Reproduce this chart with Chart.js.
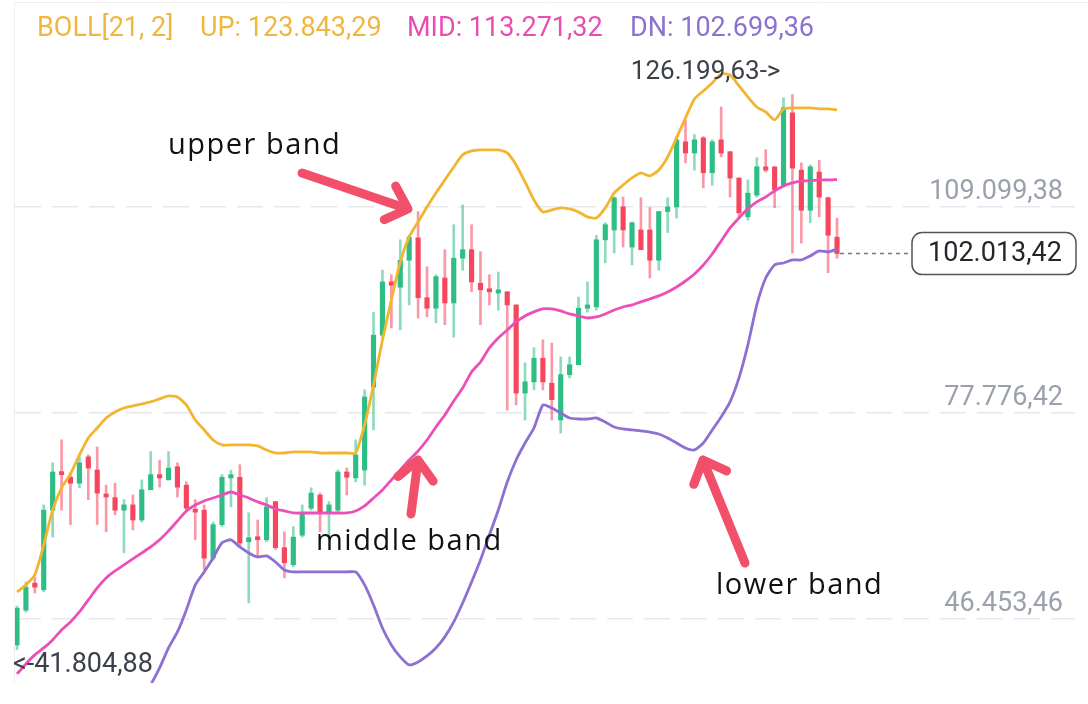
<!DOCTYPE html>
<html>
<head>
<meta charset="utf-8">
<script src="https://cdn.jsdelivr.net/npm/chart.js@4.4.1/dist/chart.umd.min.js"></script>
<style>
  html, body { margin: 0; padding: 0; background: #fff; }
  canvas { display: block; }
</style>
</head>
<body>
<canvas id="chart" width="1088" height="704"></canvas>
<script>
// velas (precio en miles)
const opens = [42.5,47.8,51.9,50.9,63.0,68.8,68.0,67.1,71.1,69.1,65.3,64.9,63.0,63.8,61.5,66.1,68.4,67.6,69.6,66.8,
  63.0,63.0,55.7,60.8,67.9,68.0,58.2,58.8,58.5,64.3,57.3,54.7,59.2,63.3,65.3,62.7,63.0,68.8,67.9,69.1,
  81.7,89.6,97.7,96.9,101.0,104.4,95.3,93.7,98.3,94.5,101.3,102.6,97.5,96.5,96.0,96.2,94.2,80.8,82.5,86.1,
  82.3,76.7,83.6,85.1,93.7,93.9,104.1,105.6,109.1,103.0,105.6,105.6,101.0,108.4,109.1,119.0,117.3,119.6,114.3,119.3,
  117.5,113.5,107.6,110.9,115.2,115.2,112.4,123.4,114.7,108.6,114.4,110.5,104.5];
const closes = [48.1,51.3,51.3,63.0,68.8,68.4,67.1,70.2,69.4,65.6,65.0,63.0,63.8,61.5,66.1,68.4,67.9,69.4,66.5,63.3,
  62.7,55.7,60.8,68.0,68.4,58.0,58.8,58.5,63.5,57.3,55.0,58.9,62.6,65.6,62.7,63.8,68.8,68.0,71.4,80.2,
  89.6,97.7,97.2,101.0,104.5,95.3,93.7,98.5,94.5,101.3,102.6,97.7,96.5,96.2,96.5,94.2,80.8,82.5,86.1,82.5,
  79.8,83.6,85.1,93.7,94.2,104.1,106.4,110.5,105.6,106.7,102.6,101.0,108.4,109.1,119.3,117.3,119.3,114.3,119.0,117.3,
  113.5,108.2,111.2,115.2,114.7,111.7,124.2,115.0,108.6,115.2,110.6,104.8,102.01342];
const highs = [48.4,52.1,52.8,63.8,70.2,73.7,68.7,71.4,71.4,72.6,66.8,67.1,64.6,65.3,67.6,71.9,70.6,71.9,70.2,67.3,
  64.6,63.8,61.2,68.4,69.1,69.9,62.6,61.5,64.9,64.3,59.7,60.5,63.8,66.4,65.6,64.3,69.1,69.4,73.7,81.3,
  93.1,99.5,98.8,104.1,104.8,108.4,100.0,98.8,102.6,106.4,109.4,106.4,102.3,98.8,99.2,96.2,94.2,85.4,87.7,88.9,
  88.4,86.3,86.3,95.4,97.7,104.8,106.7,110.6,110.6,106.8,110.5,109.0,108.4,110.5,119.8,122.3,120.1,119.8,119.3,124.3,
  117.5,113.5,113.2,116.6,117.8,115.2,125.7,126.19963,115.8,115.5,116.2,110.6,107.4];
const lows = [41.80488,47.5,50.4,50.6,58.9,63.0,60.8,66.4,64.6,60.8,59.7,62.3,56.5,60.0,61.2,66.1,66.5,67.6,65.0,63.0,
  58.5,53.9,55.4,60.5,63.5,57.4,48.9,55.9,58.2,57.0,52.7,54.4,58.9,63.0,59.7,58.9,62.7,65.3,67.3,66.8,
  75.2,89.3,90.7,90.4,94.2,92.2,92.4,91.5,91.2,89.3,99.5,96.2,91.2,94.2,93.4,78.2,79.0,76.7,81.3,81.3,
  76.7,74.7,83.1,85.1,93.1,93.4,100.6,102.1,103.0,100.3,102.6,98.3,99.5,105.2,107.4,115.8,114.7,112.0,112.4,116.7,
  110.6,107.4,107.1,110.6,114.4,109.0,112.1,102.1,103.6,106.7,107.6,99.1,101.3];

// bandas de Bollinger (21, 2)
const upperBand = [50.56,51.63,53.15,57.71,63.03,66.37,68.50,71.39,73.97,75.49,77.01,77.93,78.53,78.84,79.14,79.45,79.91,80.36,80.21,78.99,
  76.71,75.19,73.67,72.91,72.91,72.91,72.91,72.76,72.15,71.69,71.69,71.85,71.85,71.85,71.69,71.69,71.69,71.69,71.69,76.00,
  82.04,88.88,94.96,100.73,104.54,106.82,109.10,111.23,113.20,115.18,117.01,117.61,117.77,117.77,117.77,117.31,115.48,112.89,110.16,108.34,
  108.64,108.95,108.80,108.34,107.58,107.43,108.95,111.23,112.44,113.51,114.27,113.81,114.72,116.70,119.59,122.63,125.52,126.74,127.95,129.32,
  129.17,127.50,125.82,124.30,123.55,122.33,124.0,124.15,124.15,124.15,124.0,124.0,123.84329];
const midBand = [38.10,39.62,40.99,42.05,43.27,44.79,46.01,47.52,49.35,51.17,52.69,53.76,54.67,55.58,56.49,57.40,58.49,59.85,61.36,62.88,
  63.79,64.40,64.85,65.31,65.76,65.31,64.85,64.25,63.79,63.18,62.88,62.57,62.57,62.57,62.57,62.57,62.57,62.57,62.88,63.64,
  64.85,66.07,67.59,69.11,70.63,72.00,73.67,75.65,77.47,79.60,81.58,84.01,85.53,87.66,89.18,90.40,91.61,92.52,93.14,93.59,
  93.59,93.29,92.83,92.52,92.22,92.37,92.83,93.44,93.89,94.20,94.66,95.11,95.57,96.17,96.93,97.84,98.91,100.28,101.95,103.93,
  105.91,107.43,108.80,109.86,110.62,111.53,112.29,112.75,113.05,113.05,113.20,113.20,113.27132];
const lowerBand = [25.63,27.60,28.82,26.54,23.50,23.19,23.50,23.65,24.71,26.84,28.36,29.58,30.79,32.32,34.14,36.43,39.01,42.05,44.48,47.83,
  51.63,53.61,55.73,58.03,58.49,57.40,56.49,55.88,56.04,55.12,53.91,53.61,53.61,53.61,53.61,53.61,53.61,53.61,53.61,51.63,
  48.59,45.09,42.51,40.69,39.47,39.93,40.84,42.05,43.73,46.01,48.89,52.08,55.43,59.24,63.03,67.28,70.63,73.21,75.49,78.99,
  78.53,77.77,77.01,76.86,76.86,77.01,76.40,75.65,75.34,75.19,75.04,74.88,74.58,73.97,73.21,72.45,72.15,73.21,75.19,77.17,
  79.45,83.10,88.12,94.20,98.30,100.28,100.58,101.04,101.04,101.65,102.41,102.26,102.69936];

const yTicks = [46.45346, 77.77642, 109.09938];

const GREEN = '#2ebd85', RED = '#f6465d';
const GREEN_W = 'rgba(46,189,133,0.55)', RED_W = 'rgba(246,70,93,0.55)';

// formato 109.099,38
function fmt(v) {
  const n = Math.round(v * 100000);
  const ent = Math.floor(n / 100).toString().replace(/\B(?=(\d{3})+(?!\d))/g, '.');
  const dec = String(n % 100).padStart(2, '0');
  return ent + ',' + dec;
}

const isUp = opens.map((o, i) => closes[i] >= o);
const last = closes.length - 1;
const maxHigh = Math.max(...highs), maxIdx = highs.indexOf(maxHigh);
const minLow = Math.min(...lows), minIdx = lows.indexOf(minLow);

function arrow(ctx, x1, y1, x2, y2) {
  const a = Math.atan2(y2 - y1, x2 - x1);
  const h = 26;
  ctx.beginPath();
  ctx.moveTo(x1, y1); ctx.lineTo(x2, y2);
  ctx.moveTo(x2 - h * Math.cos(a - 0.75), y2 - h * Math.sin(a - 0.75));
  ctx.lineTo(x2, y2);
  ctx.lineTo(x2 - h * Math.cos(a + 0.75), y2 - h * Math.sin(a + 0.75));
  ctx.stroke();
}

const extras = {
  id: 'extras',
  afterDraw(chart) {
    const ctx = chart.ctx;
    const xs = chart.scales.x, ys = chart.scales.y;
    ctx.save();

    // marco tenue
    ctx.strokeStyle = '#efefef'; ctx.lineWidth = 1;
    ctx.beginPath(); ctx.moveTo(14.5, 683); ctx.lineTo(14.5, 2.5); ctx.lineTo(1088, 2.5); ctx.stroke();

    // leyenda BOLL
    ctx.font = '27px Roboto'; ctx.textBaseline = 'middle'; ctx.textAlign = 'left';
    ctx.fillStyle = '#efb73e';
    ctx.fillText('BOLL[21, 2]', 37, 29);
    ctx.fillText('UP: ' + fmt(upperBand[last]), 200, 29);
    ctx.fillStyle = '#e94db0';
    ctx.fillText('MID: ' + fmt(midBand[last]), 407, 29);
    ctx.fillStyle = '#8c72cf';
    ctx.fillText('DN: ' + fmt(lowerBand[last]), 630, 29);

    // maximo y minimo
    ctx.font = '26px Roboto';
    ctx.fillStyle = '#3c4048';
    ctx.textAlign = 'right';
    ctx.fillText(fmt(maxHigh) + '->', xs.getPixelForValue(maxIdx) - 12, ys.getPixelForValue(maxHigh) - 22);
    ctx.textAlign = 'left';
    ctx.font = '27px Roboto';
    ctx.fillText('<-' + fmt(minLow), xs.getPixelForValue(minIdx) - 4, ys.getPixelForValue(minLow) + 16);

    // precio actual
    const py = ys.getPixelForValue(closes[last]);
    ctx.strokeStyle = '#777'; ctx.lineWidth = 1.5; ctx.setLineDash([4, 4]);
    ctx.beginPath(); ctx.moveTo(xs.getPixelForValue(last) + 3, py); ctx.lineTo(912, py); ctx.stroke();
    ctx.setLineDash([]);
    ctx.fillStyle = '#fff'; ctx.strokeStyle = '#555'; ctx.lineWidth = 1.5;
    ctx.beginPath(); ctx.roundRect(912, py - 21, 164, 42, 10); ctx.fill(); ctx.stroke();
    ctx.fillStyle = '#23262b'; ctx.textAlign = 'center'; ctx.font = '27px Roboto';
    ctx.fillText(fmt(closes[last]), 995, py + 1);

    // anotaciones
    ctx.fillStyle = '#111'; ctx.textAlign = 'left'; ctx.font = '29px "Open Sans"';
    ctx.letterSpacing = '1.5px';
    ctx.fillText('upper band', 168, 146);
    ctx.fillText('middle band', 316, 542);
    ctx.fillText('lower band', 716, 586);
    ctx.letterSpacing = '0px';

    ctx.strokeStyle = '#f2506a'; ctx.lineWidth = 9; ctx.lineCap = 'round'; ctx.lineJoin = 'round';
    arrow(ctx, 302, 173, 408, 209);
    arrow(ctx, 411, 514, 418, 460);
    arrow(ctx, 745, 563, 703, 460);

    ctx.restore();
  }
};

const ctx = document.getElementById('chart').getContext('2d');
new Chart(ctx, {
  type: 'bar',
  data: {
    datasets: [
      {
        type: 'line', label: 'UP', order: 0,
        data: upperBand.map((v, i) => ({ x: i, y: v })),
        borderColor: '#f2b530', borderWidth: 2.8, pointRadius: 0, tension: 0.2
      },
      {
        type: 'line', label: 'MID', order: 0,
        data: midBand.map((v, i) => ({ x: i, y: v })),
        borderColor: '#ec4fb8', borderWidth: 2.8, pointRadius: 0, tension: 0.2
      },
      {
        type: 'line', label: 'DN', order: 0,
        data: lowerBand.map((v, i) => ({ x: i, y: v })),
        borderColor: '#8e6fd2', borderWidth: 2.8, pointRadius: 0, tension: 0.2
      },
      {
        label: 'cuerpo', order: 1, grouped: false,
        data: opens.map((o, i) => ({ x: i, y: [o, closes[i]] })),
        backgroundColor: isUp.map(u => u ? GREEN : RED),
        barThickness: 4.5, minBarLength: 3
      },
      {
        label: 'mecha', order: 2, grouped: false,
        data: lows.map((l, i) => ({ x: i, y: [l, highs[i]] })),
        backgroundColor: isUp.map(u => u ? GREEN_W : RED_W),
        barThickness: 2
      }
    ]
  },
  options: {
    responsive: false,
    animation: false,
    layout: { padding: { left: 15, right: 13, top: 16, bottom: 21 } },
    plugins: { legend: { display: false }, tooltip: { enabled: false } },
    scales: {
      x: { type: 'linear', offset: false, min: -0.224, max: 118.7, display: false },
      y: {
        position: 'right', min: 36.72, max: 138.13,
        afterBuildTicks: axis => { axis.ticks = yTicks.map(v => ({ value: v })); },
        // etiquetas dentro del area, sin quitarle espacio
        afterFit: axis => { axis.width = 0; axis.paddingTop = 0; axis.paddingBottom = 0; },
        border: { display: false, dash: [26, 11] },
        grid: { color: '#e7e8eb', lineWidth: 1.5, drawTicks: false },
        ticks: {
          mirror: true, padding: -12, labelOffset: -15,
          color: '#9ba1ac', font: { family: 'Roboto', size: 27 },
          callback: v => fmt(v)
        }
      }
    }
  },
  plugins: [extras]
});
</script>
</body>
</html>
